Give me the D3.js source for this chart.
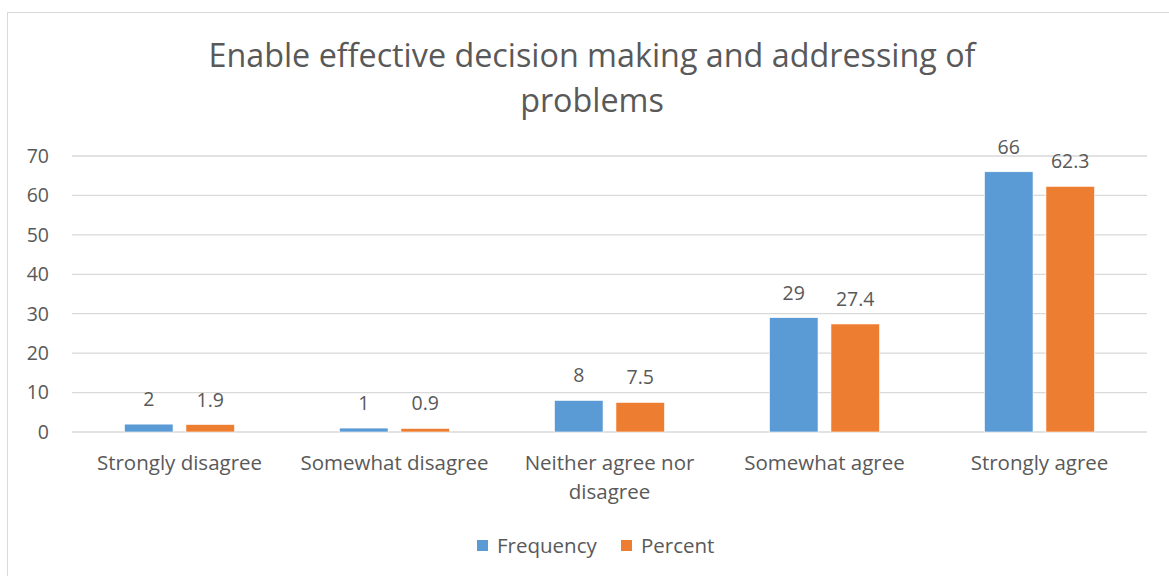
<!DOCTYPE html>
<html>
<head>
<meta charset="utf-8">
<style>
body { margin: 0; background: #fff; }
text { font-family: "Open Sans", sans-serif; fill: #595959; }
.grid line { stroke: #d9d9d9; stroke-width: 1.3px; }
</style>
</head>
<body>
<script src="https://cdn.jsdelivr.net/npm/d3@7"></script>
<script>
var categories = ["Strongly disagree", "Somewhat disagree", "Neither agree nor disagree", "Somewhat agree", "Strongly agree"];
var seriesNames = ["Frequency", "Percent"];
var frequency = [2, 1, 8, 29, 66];
var percent = [1.9, 0.9, 7.5, 27.4, 62.3];
var yTicks = [0, 10, 20, 30, 40, 50, 60, 70];
var titleLines = ["Enable effective decision making and addressing of", "problems"];

var width = 1169, height = 576;
var colors = ["#5b9bd5", "#ed7d31"];

var svg = d3.select("body").append("svg")
    .attr("width", width)
    .attr("height", height);

// chart border
svg.append("rect")
    .attr("x", 7.5).attr("y", 12.5)
    .attr("width", 1200).attr("height", 600)
    .attr("fill", "none")
    .attr("stroke", "#d9d9d9");

var x0 = d3.scaleBand()
    .domain(categories)
    .range([72, 1147]);

var x1 = d3.scaleBand()
    .domain(seriesNames)
    .range([0, 110])
    .paddingInner(0.21);

var y = d3.scaleLinear()
    .domain([0, 70])
    .range([432, 156]);

// gridlines
svg.append("g").attr("class", "grid")
  .selectAll("line")
  .data(yTicks)
  .enter().append("line")
    .attr("x1", 72).attr("x2", 1147)
    .attr("y1", function(d) { return y(d); })
    .attr("y2", function(d) { return y(d); });

// y tick labels
svg.append("g")
  .selectAll("text")
  .data(yTicks)
  .enter().append("text")
    .attr("x", 49)
    .attr("y", function(d) { return y(d); })
    .attr("dy", "0.35em")
    .attr("text-anchor", "end")
    .style("font-size", "19.5px")
    .text(function(d) { return d; });

var rows = categories.map(function(c, i) {
  return { cat: c, values: [
    { key: "Frequency", value: frequency[i] },
    { key: "Percent", value: percent[i] }
  ]};
});

var groups = svg.append("g")
  .selectAll("g")
  .data(rows)
  .enter().append("g")
    .attr("transform", function(d) {
      return "translate(" + (x0(d.cat) + (x0.bandwidth() - 110) / 2) + ",0)";
    });

groups.selectAll("rect")
  .data(function(d) { return d.values; })
  .enter().append("rect")
    .attr("x", function(d) { return x1(d.key); })
    .attr("width", x1.bandwidth())
    .attr("y", function(d) { return y(d.value); })
    .attr("height", function(d) { return y(0) - y(d.value); })
    .attr("fill", function(d, i) { return colors[i]; })
    .attr("stroke", "#fff")
    .attr("stroke-width", 0.6);

groups.selectAll("text.lbl")
  .data(function(d) { return d.values; })
  .enter().append("text")
    .attr("class", "lbl")
    .attr("x", function(d) { return x1(d.key) + x1.bandwidth() / 2; })
    .attr("y", function(d) { return y(d.value) - 18; })
    .attr("text-anchor", "middle")
    .style("font-size", "19.5px")
    .text(function(d) { return d.value; });

// category labels, wrapped like the original
var catLines = {
  "Neither agree nor disagree": ["Neither agree nor", "disagree"]
};
svg.append("g")
  .selectAll("text")
  .data(categories)
  .enter().append("text")
    .attr("x", function(d) { return x0(d) + x0.bandwidth() / 2; })
    .attr("y", 470)
    .attr("text-anchor", "middle")
    .style("font-size", "20.5px")
    .each(function(d) {
      var lines = catLines[d] || [d];
      var t = d3.select(this);
      lines.forEach(function(l, i) {
        t.append("tspan")
          .attr("x", x0(d) + x0.bandwidth() / 2)
          .attr("dy", i == 0 ? 0 : 28.5)
          .text(l);
      });
    });

// title
svg.append("g")
  .selectAll("text")
  .data(titleLines)
  .enter().append("text")
    .attr("x", 592)
    .attr("y", function(d, i) { return 67 + i * 45; })
    .attr("text-anchor", "middle")
    .style("font-size", "32.3px")
    .text(function(d) { return d; });

// legend
var legend = svg.append("g")
  .selectAll("g")
  .data(seriesNames)
  .enter().append("g")
    .attr("transform", function(d, i) { return "translate(" + [477, 621][i] + ",540)"; });

legend.append("rect")
    .attr("width", 11).attr("height", 11)
    .attr("fill", function(d, i) { return colors[i]; });

legend.append("text")
    .attr("x", 20)
    .attr("y", 6)
    .attr("dy", "0.35em")
    .style("font-size", "20.5px")
    .text(function(d) { return d; });
</script>
</body>
</html>
